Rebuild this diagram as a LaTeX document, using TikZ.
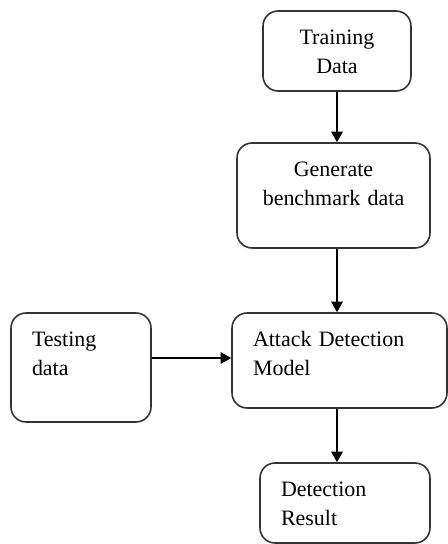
\documentclass[tikz,border=0pt]{standalone}
\usepackage{fontspec}
\setmainfont{Liberation Serif}
\usetikzlibrary{arrows.meta}
\begin{document}
\begin{tikzpicture}[x=0.02cm, y=-0.02cm,
    box/.style={draw=black!80, line width=0.9pt, rounded corners=0.3cm, inner ysep=0pt,
        text height=0.66cm, font=\fontsize{12.5}{16.8}\selectfont},
    arr/.style={-{Triangle[length=6pt, width=6.5pt]}, line width=0.9pt}]
        \useasboundingbox (0,0) rectangle (448,544);
        \node[box, text width=2.96cm, inner xsep=0pt, text depth=0.94cm, align=center] (n1) at (337,51) {Training\\Data};
        \node[box, text width=3.86cm, inner xsep=0pt, text depth=1.44cm, align=center] (n2) at (333.5,195.5) {Generate\\benchmark data};
        \node[box, text width=3.46cm, inner xsep=0.42cm, text depth=1.24cm, align=left] (n3) at (339.5,360.5) {Attack Detection\\Model};
        \node[box, text width=1.96cm, inner xsep=0.42cm, text depth=1.52cm, align=left] (n4) at (81,367.5) {Testing\\data};
        \node[box, text width=2.56cm, inner xsep=0.42cm, text depth=0.94cm, align=left] (n5) at (345,503) {Detection\\Result};

        \draw[arr] (n1.south) -- (n1.south |- n2.north);
        \draw[arr] (n2.south -| n1) -- (n1 |- n3.north);
        \draw[arr] (n4.east |- 0,358) -- (n3.west |- 0,358);
        \draw[arr] (n3.south -| n1) -- (n1 |- n5.north);
\end{tikzpicture}
\end{document}
